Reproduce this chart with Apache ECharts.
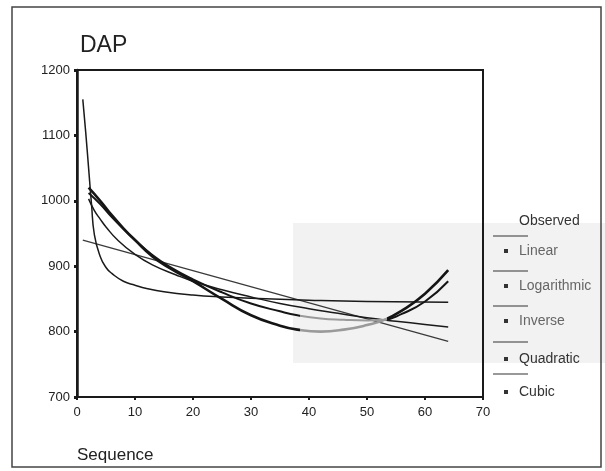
<!DOCTYPE html>
<html>
<head>
<meta charset="utf-8">
<script src="https://cdn.jsdelivr.net/npm/echarts@6/dist/echarts.min.js"></script>
<style>
html,body{margin:0;padding:0;background:#fff;}
#c{width:605px;height:471px;}
</style>
</head>
<body>
<div id="c"></div>
<script>
// ---- data ----
const xTicks = [0, 10, 20, 30, 40, 50, 60, 70];
const yTicks = [700, 800, 900, 1000, 1100, 1200];

const linearX = [1, 64];
const linearY = [940, 785];

const logX = [2, 3, 4, 5, 7, 10, 13, 17, 20, 25, 30, 35, 40, 45, 50, 55, 60, 64];
const logY = [1003, 985, 972, 960, 940, 918, 902, 887, 877, 864, 853, 843, 835, 828, 821, 816, 811, 807];

const invX = [1, 1.5, 2, 2.5, 3, 4, 5, 6, 8, 10, 12, 15, 20, 25, 30, 40, 50, 64];
const invY = [1155, 1105, 1050, 995, 948, 915, 898, 889, 877, 871, 866, 861, 856, 853, 851, 848, 846, 845];

const quadX = [2, 4, 6, 8, 10, 13, 16, 20, 25, 30, 35, 38, 42, 46, 50, 53, 56, 60, 64];
const quadY = [1012, 995, 975, 957, 940, 917, 899, 880, 860, 843, 831, 825, 820, 818, 817, 818, 827, 846, 877];

const cubicX = [2, 4, 6, 8, 10, 13, 16, 20, 25, 30, 35, 38, 42, 46, 50, 53, 56, 60, 64];
const cubicY = [1020, 1000, 978, 958, 940, 915, 897, 877, 850, 825, 809, 803, 800, 803, 810, 818, 832, 858, 894];

const legendNames = ['Linear', 'Logarithmic', 'Inverse', 'Quadratic', 'Cubic'];

const pairs = (xs, ys) => xs.map((x, i) => [x, ys[i]]);
const FONT = '"Liberation Sans", Arial, sans-serif';

const chart = echarts.init(document.getElementById('c'), null, {renderer: 'canvas'});

// legend drawn as graphics, mimicking the original layout
const legendGraphics = [];
legendGraphics.push({type: 'text', left: 519, top: 214, z: 10,
  style: {text: 'Observed', font: '14px ' + FONT, fill: '#333'}});
const lineYs = [236, 271, 306, 342, 374];
const textYs = [252, 287, 322, 360, 393];
const textCols = ['#666', '#666', '#666', '#333', '#333'];
legendNames.forEach((n, i) => {
  legendGraphics.push({type: 'line', z: 10, shape: {x1: 493, y1: lineYs[i], x2: 528, y2: lineYs[i]},
    style: {stroke: '#333', lineWidth: 1}});
  legendGraphics.push({type: 'rect', z: 10, shape: {x: 504, y: textYs[i] - 3, width: 4, height: 4},
    style: {fill: '#333'}});
  legendGraphics.push({type: 'text', z: 10, x: 519, y: textYs[i] - 8,
    style: {text: n, font: '14px ' + FONT, fill: textCols[i]}});
});

const option = {
  backgroundColor: '#fff',
  animation: false,
  title: {text: 'DAP', left: 75, top: 29,
    textStyle: {fontFamily: FONT, fontSize: 23, fontWeight: 'normal', color: '#222'}},
  grid: {left: 77, top: 70, width: 406, height: 327, show: true,
    borderColor: '#1a1a1a', borderWidth: 2, backgroundColor: 'transparent'},
  xAxis: {type: 'value', min: xTicks[0], max: xTicks[xTicks.length - 1], interval: 10,
    name: 'Sequence', nameLocation: 'start', nameGap: 0,
    nameTextStyle: {fontFamily: FONT, fontSize: 17, color: '#222', align: 'left', verticalAlign: 'top', padding: [50, 0, 0, 0]},
    axisLine: {show: true, lineStyle: {color: '#1a1a1a', width: 2}},
    axisTick: {show: true, length: 3, lineStyle: {color: '#1a1a1a', width: 2}},
    axisLabel: {fontFamily: FONT, fontSize: 13, color: '#222', margin: 9},
    splitLine: {show: false}},
  yAxis: {type: 'value', min: yTicks[0], max: yTicks[yTicks.length - 1], interval: 100,
    axisLine: {show: true, lineStyle: {color: '#1a1a1a', width: 2.5}},
    axisTick: {show: true, length: 3, lineStyle: {color: '#1a1a1a', width: 3}},
    axisLabel: {fontFamily: FONT, fontSize: 13, color: '#222', margin: 7,
      formatter: v => String(v)},
    splitLine: {show: false}},
  visualMap: [{type: 'piecewise', show: false, dimension: 0, seriesIndex: [3, 4],
    pieces: [{lt: 38.5, color: '#151515'}, {gte: 38.5, lt: 53.5, color: '#9a9a9a'}, {gte: 53.5, color: '#151515'}]}],
  graphic: [
    {type: 'rect', z: -10, silent: true, shape: {x: 293, y: 223, width: 312, height: 140},
      style: {fill: '#f2f2f2'}},
    {type: 'rect', z: 10, silent: true, shape: {x: 12, y: 7, width: 589, height: 460},
      style: {fill: 'none', stroke: '#444', lineWidth: 1.5}}
  ].concat(legendGraphics),
  series: [
    {name: 'Linear', type: 'line', showSymbol: false, data: pairs(linearX, linearY),
      lineStyle: {color: '#3a3a3a', width: 1.3}, z: 3},
    {name: 'Logarithmic', type: 'line', showSymbol: false, smooth: 0.5,
      data: pairs(logX, logY), lineStyle: {color: '#1a1a1a', width: 1.5}, z: 3},
    {name: 'Inverse', type: 'line', showSymbol: false, smooth: 0.5,
      data: pairs(invX, invY), lineStyle: {color: '#1a1a1a', width: 1.5}, z: 3},
    {name: 'Quadratic', type: 'line', showSymbol: false, smooth: 0.5,
      data: pairs(quadX, quadY), lineStyle: {width: 2}, z: 4},
    {name: 'Cubic', type: 'line', showSymbol: false, smooth: 0.5,
      data: pairs(cubicX, cubicY), lineStyle: {width: 2.6}, z: 5}
  ]
};
chart.setOption(option);
</script>
</body>
</html>
